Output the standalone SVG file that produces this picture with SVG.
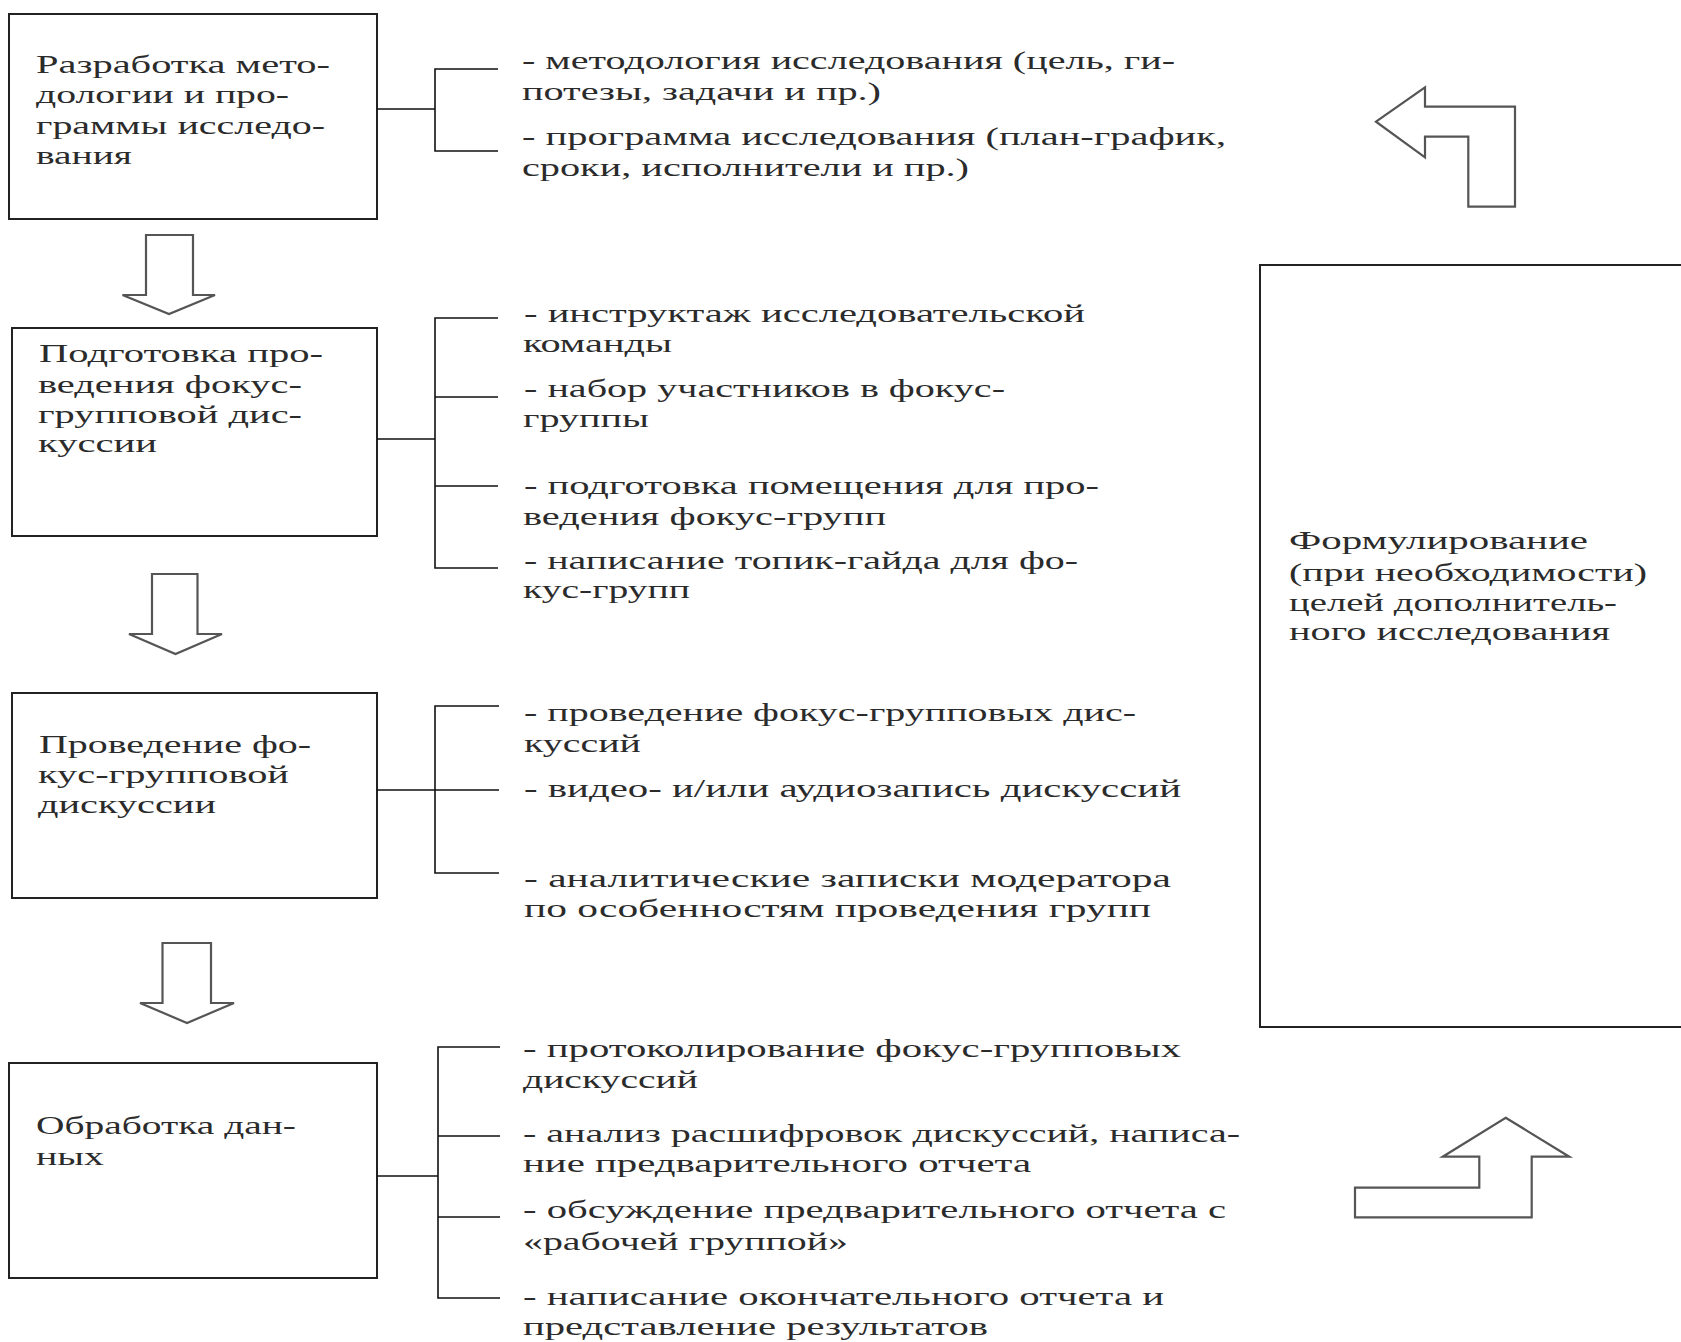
<svg xmlns="http://www.w3.org/2000/svg" width="1681" height="1342" viewBox="0 0 1681 1342">
<style>
.box{fill:#fff;stroke:#222;stroke-width:2}
.arr{fill:#fff;stroke:#555;stroke-width:2.2;stroke-linejoin:miter}
.con{fill:none;stroke:#111;stroke-width:1.6}
text{font-family:"Liberation Serif","Times New Roman",serif;font-size:25px;fill:#2b2b2b}
</style>
<rect x="0" y="0" width="1681" height="1342" fill="#fff"/>

<g id="node-razrabotka">
<rect class="box" x="9" y="14" width="368" height="205"/>
<text x="36" y="73" textLength="294" lengthAdjust="spacingAndGlyphs">Разработка мето-</text>
<text x="36" y="103" textLength="253" lengthAdjust="spacingAndGlyphs">дологии и про-</text>
<text x="36" y="134" textLength="289" lengthAdjust="spacingAndGlyphs">граммы исследо-</text>
<text x="36" y="164" textLength="96" lengthAdjust="spacingAndGlyphs">вания</text>
</g>

<g id="node-podgotovka">
<rect class="box" x="12" y="328" width="365" height="208"/>
<text x="39" y="362" textLength="284" lengthAdjust="spacingAndGlyphs">Подготовка про-</text>
<text x="38" y="393" textLength="264" lengthAdjust="spacingAndGlyphs">ведения фокус-</text>
<text x="38" y="423" textLength="264" lengthAdjust="spacingAndGlyphs">групповой дис-</text>
<text x="38" y="452" textLength="119" lengthAdjust="spacingAndGlyphs">куссии</text>
</g>

<g id="node-provedenie">
<rect class="box" x="12" y="693" width="365" height="205"/>
<text x="39" y="753" textLength="272" lengthAdjust="spacingAndGlyphs">Проведение фо-</text>
<text x="38" y="783" textLength="251" lengthAdjust="spacingAndGlyphs">кус-групповой</text>
<text x="38" y="813" textLength="178" lengthAdjust="spacingAndGlyphs">дискуссии</text>
</g>

<g id="node-obrabotka">
<rect class="box" x="9" y="1063" width="368" height="215"/>
<text x="36" y="1134" textLength="260" lengthAdjust="spacingAndGlyphs">Обработка дан-</text>
<text x="36" y="1165" textLength="68" lengthAdjust="spacingAndGlyphs">ных</text>
</g>

<g id="node-formulirovanie">
<rect class="box" x="1260" y="265" width="440" height="762"/>
<text x="1289" y="549" textLength="299" lengthAdjust="spacingAndGlyphs">Формулирование</text>
<text x="1289" y="581" textLength="358" lengthAdjust="spacingAndGlyphs">(при необходимости)</text>
<text x="1289" y="611" textLength="328" lengthAdjust="spacingAndGlyphs">целей дополнитель-</text>
<text x="1289" y="640" textLength="321" lengthAdjust="spacingAndGlyphs">ного исследования</text>
</g>

<g id="items-1">
<text x="522" y="69" textLength="653" lengthAdjust="spacingAndGlyphs">- методология исследования (цель, ги-</text>
<text x="522" y="100" textLength="359" lengthAdjust="spacingAndGlyphs">потезы, задачи и пр.)</text>
<text x="522" y="145" textLength="704" lengthAdjust="spacingAndGlyphs">- программа исследования (план-график,</text>
<text x="522" y="176" textLength="447" lengthAdjust="spacingAndGlyphs">сроки, исполнители и пр.)</text>
</g>

<g id="items-2">
<text x="524" y="322" textLength="561" lengthAdjust="spacingAndGlyphs">- инструктаж исследовательской</text>
<text x="523" y="352" textLength="149" lengthAdjust="spacingAndGlyphs">команды</text>
<text x="524" y="397" textLength="481" lengthAdjust="spacingAndGlyphs">- набор участников в фокус-</text>
<text x="523" y="427" textLength="126" lengthAdjust="spacingAndGlyphs">группы</text>
<text x="524" y="494" textLength="575" lengthAdjust="spacingAndGlyphs">- подготовка помещения для про-</text>
<text x="523" y="525" textLength="363" lengthAdjust="spacingAndGlyphs">ведения фокус-групп</text>
<text x="524" y="569" textLength="554" lengthAdjust="spacingAndGlyphs">- написание топик-гайда для фо-</text>
<text x="523" y="598" textLength="167" lengthAdjust="spacingAndGlyphs">кус-групп</text>
</g>

<g id="items-3">
<text x="524" y="721" textLength="612" lengthAdjust="spacingAndGlyphs">- проведение фокус-групповых дис-</text>
<text x="524" y="752" textLength="117" lengthAdjust="spacingAndGlyphs">куссий</text>
<text x="524" y="797" textLength="657" lengthAdjust="spacingAndGlyphs">- видео- и/или аудиозапись дискуссий</text>
<text x="524" y="887" textLength="647" lengthAdjust="spacingAndGlyphs">- аналитические записки модератора</text>
<text x="524" y="917" textLength="627" lengthAdjust="spacingAndGlyphs">по особенностям проведения групп</text>
</g>

<g id="items-4">
<text x="523" y="1057" textLength="658" lengthAdjust="spacingAndGlyphs">- протоколирование фокус-групповых</text>
<text x="523" y="1088" textLength="175" lengthAdjust="spacingAndGlyphs">дискуссий</text>
<text x="523" y="1142" textLength="717" lengthAdjust="spacingAndGlyphs">- анализ расшифровок дискуссий, написа-</text>
<text x="523" y="1172" textLength="508" lengthAdjust="spacingAndGlyphs">ние предварительного отчета</text>
<text x="523" y="1218" textLength="703" lengthAdjust="spacingAndGlyphs">- обсуждение предварительного отчета с</text>
<text x="523" y="1250" textLength="325" lengthAdjust="spacingAndGlyphs">«рабочей группой»</text>
<text x="523" y="1305" textLength="641" lengthAdjust="spacingAndGlyphs">- написание окончательного отчета и</text>
<text x="523" y="1335" textLength="465" lengthAdjust="spacingAndGlyphs">представление результатов</text>
</g>

<g id="connectors">
<path class="con" d="M377 109H435M498 69H435V151H498"/>
<path class="con" d="M377 439H435M498 318H435V568H498M435 397H498M435 486H498"/>
<path class="con" d="M377 790H499M499 706H435V873H499"/>
<path class="con" d="M377 1176H438M500 1047H438V1298H500M438 1136H500M438 1217H500"/>
<polygon class="arr" points="146,235 193,235 193,295 215,295 169,314 122.5,295 146,295"/>
<polygon class="arr" points="152,574 197.5,574 197.5,634 222,634 175.5,654 129,634 152,634"/>
<polygon class="arr" points="162.5,943 211,943 211,1003 234,1003 187,1023 140,1003 162.5,1003"/>
<polygon class="arr" points="1376,121.7 1425,87.3 1425,106.7 1515,106.7 1515,206.7 1468.3,206.7 1468.3,136.7 1425,136.7 1425,157.3"/>
<polygon class="arr" points="1505.7,1117.7 1569.3,1156.7 1531.7,1156.7 1531.7,1217.3 1355,1217.3 1355,1187.7 1479.3,1187.7 1479.3,1156.7 1442.7,1156.7"/>
</g>
</svg>
